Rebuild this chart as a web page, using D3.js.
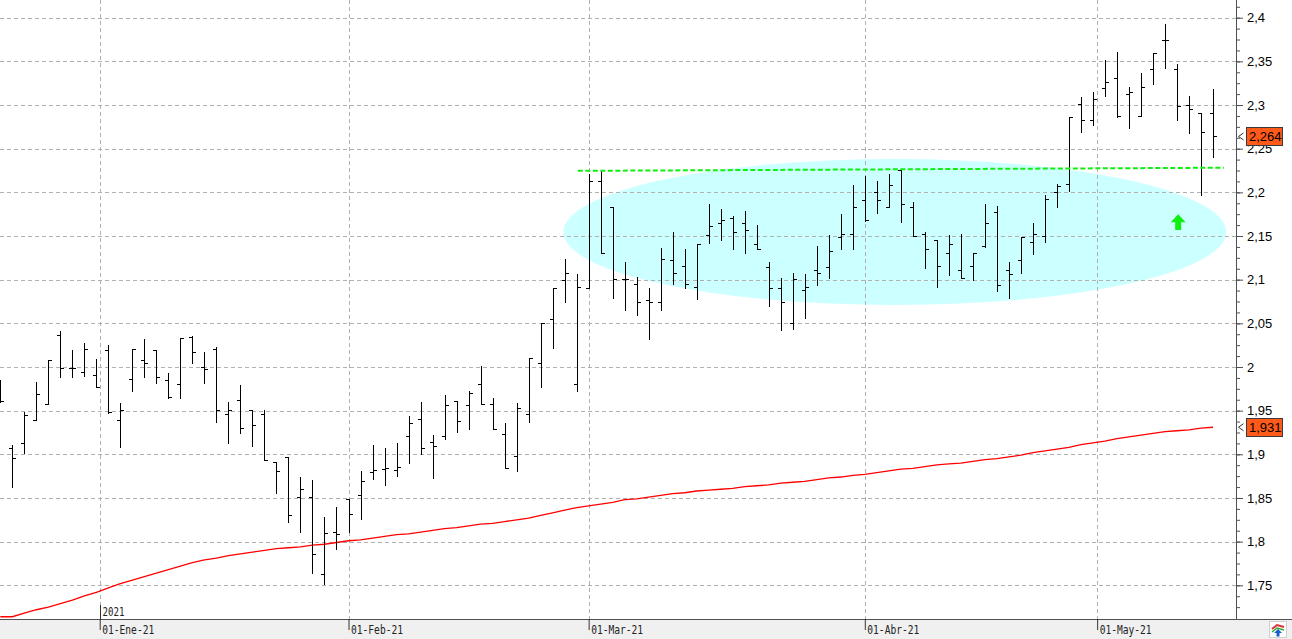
<!DOCTYPE html>
<html><head><meta charset="utf-8">
<script src="https://cdn.jsdelivr.net/npm/d3@7"></script>
<style>html,body{margin:0;padding:0;background:#fff;overflow:hidden}svg{display:block}</style>
</head><body>
<svg id="c" width="1292" height="639"></svg>
<script>
// ---- data ----
const opens = [1.975,1.907,1.913,1.939,1.958,2.037,1.999,1.994,1.991,2.019,
1.939,1.986,2.008,2.019,1.985,1.980,2.034,2.000,2.021,1.946,
1.962,1.951,1.946,1.891,1.897,1.851,1.851,1.763,1.811,1.849,
1.853,1.880,1.883,1.882,1.921,1.940,1.914,1.921,1.961,1.956,
1.980,1.958,1.923,1.898,1.946,2.004,2.055,2.100,1.980,2.090,
2.213,2.183,2.101,2.095,2.077,2.074,2.122,2.116,2.092,2.151,
2.165,2.171,2.165,2.141,2.114,2.090,2.050,2.088,2.111,2.114,
2.149,2.152,2.191,2.200,2.183,2.226,2.183,2.152,2.146,2.130,
2.111,2.116,2.138,2.177,2.111,2.122,2.143,2.150,2.200,2.210,
2.301,2.283,2.320,2.331,2.313,2.288,2.341,2.375,2.341,2.300,
2.291,2.291];
const highs = [1.985,1.911,1.948,1.983,2.008,2.041,2.019,2.027,2.009,2.025,
1.959,2.021,2.032,2.019,1.993,2.033,2.036,2.017,2.023,1.960,
1.979,1.951,1.951,1.891,1.897,1.874,1.871,1.828,1.840,1.849,
1.881,1.911,1.907,1.913,1.944,1.960,1.922,1.968,1.961,1.973,
2.001,1.965,1.936,1.959,2.010,2.050,2.090,2.124,2.107,2.221,
2.226,2.183,2.120,2.103,2.090,2.136,2.155,2.135,2.141,2.187,
2.181,2.173,2.179,2.163,2.120,2.102,2.108,2.106,2.139,2.151,
2.175,2.208,2.219,2.213,2.221,2.226,2.189,2.155,2.146,2.151,
2.152,2.130,2.187,2.184,2.120,2.149,2.165,2.197,2.210,2.286,
2.309,2.315,2.351,2.361,2.321,2.337,2.360,2.393,2.347,2.310,
2.291,2.318];
const lows = [1.960,1.862,1.901,1.939,1.958,1.988,1.988,1.990,1.977,1.947,
1.908,1.972,1.988,1.982,1.964,1.964,2.005,1.982,1.937,1.913,
1.924,1.910,1.894,1.856,1.822,1.811,1.764,1.752,1.791,1.811,
1.826,1.872,1.865,1.875,1.890,1.900,1.873,1.917,1.925,1.929,
1.958,1.929,1.884,1.881,1.937,1.977,2.022,2.074,1.972,2.090,
2.130,2.079,2.065,2.060,2.032,2.065,2.095,2.090,2.078,2.142,
2.146,2.135,2.130,2.135,2.070,2.042,2.044,2.056,2.094,2.102,
2.135,2.135,2.167,2.176,2.183,2.166,2.150,2.113,2.092,2.105,
2.102,2.100,2.137,2.087,2.079,2.108,2.129,2.143,2.183,2.202,
2.269,2.277,2.310,2.286,2.274,2.288,2.324,2.342,2.283,2.268,
2.197,2.240];
const closes = [1.961,1.896,1.945,1.969,2.008,1.999,1.999,2.021,1.977,1.949,
1.951,2.021,2.005,1.988,1.966,2.033,2.017,1.998,1.951,1.951,
1.930,1.934,1.894,1.881,1.831,1.860,1.786,1.810,1.809,1.832,
1.870,1.882,1.884,1.886,1.936,1.907,1.909,1.956,1.938,1.970,
1.958,1.929,1.884,1.953,2.010,2.050,2.090,2.108,2.092,2.213,
2.130,2.101,2.101,2.074,2.074,2.124,2.108,2.095,2.141,2.162,
2.168,2.155,2.157,2.135,2.090,2.074,2.101,2.092,2.108,2.133,
2.152,2.183,2.168,2.191,2.208,2.187,2.150,2.135,2.116,2.141,
2.102,2.130,2.165,2.094,2.106,2.149,2.152,2.192,2.207,2.286,
2.283,2.307,2.326,2.288,2.315,2.321,2.360,2.375,2.299,2.295,
2.269,2.264];
const movingAvg = [1.714,1.714,1.718,1.722,1.725,1.729,1.733,1.738,1.742,1.747,
1.752,1.756,1.760,1.764,1.768,1.772,1.776,1.779,1.781,1.784,
1.786,1.788,1.790,1.792,1.793,1.794,1.796,1.797,1.799,1.801,
1.802,1.804,1.806,1.808,1.809,1.811,1.813,1.815,1.816,1.818,
1.820,1.821,1.823,1.825,1.827,1.830,1.833,1.836,1.839,1.841,
1.843,1.845,1.848,1.849,1.851,1.853,1.855,1.856,1.858,1.859,
1.860,1.861,1.863,1.864,1.865,1.867,1.868,1.869,1.871,1.873,
1.874,1.876,1.877,1.879,1.881,1.883,1.884,1.886,1.888,1.889,
1.890,1.892,1.894,1.895,1.897,1.899,1.902,1.904,1.906,1.908,
1.911,1.913,1.915,1.918,1.920,1.922,1.924,1.926,1.927,1.928,
1.930,1.931];
const yTicks = [1.75,1.8,1.85,1.9,1.95,2,2.05,2.1,2.15,2.2,2.25,2.3,2.35,2.4];
const monthTicks = [8.28, 29, 49, 72, 91.35];
const monthLabels = ["01-Ene-21","01-Feb-21","01-Mar-21","01-Abr-21","01-May-21"];
const yearLabel = "2021";
const lastClose = 2.264;
const lastAvg = 1.931;
const resistance = [[48.1, 2.2246], [101.9, 2.2282]];
const zone = {cx: 74.5, cy: 2.1546, rx: 27.6, ry: 0.0836};
const arrowMark = {i: 98.1, top: 2.175, bottom: 2.157};

// ---- layout ----
const W = 1292, H = 639, axisX = 1236, axisY = 619;
const svg = d3.select("#c");
const x = d3.scaleLinear().domain([0, 101]).range([0.3, 1213]);
const y = d3.scaleLinear().domain([1.75, 2.4]).range([585.3, 17.7]);
const loc = d3.formatLocale({decimal: ",", thousands: ".", grouping: [3], currency: ["", "€"]});
const fmtTick = loc.format("~f");
const fmt3 = loc.format(".3f");
const FONT = "'Liberation Sans', Arial, sans-serif";
const MONO = "'DejaVu Sans Mono', 'Liberation Mono', monospace";

svg.append("rect").attr("width", W).attr("height", H).attr("fill", "#fff");
svg.append("rect").attr("x", 0).attr("y", axisY).attr("width", W).attr("height", H - axisY).attr("fill", "#f0f0f0");

// zone ellipse
const ry0 = y(zone.cy);
svg.append("ellipse")
  .attr("cx", x(zone.cx)).attr("cy", ry0)
  .attr("rx", x(zone.cx + zone.rx) - x(zone.cx))
  .attr("ry", y(zone.cy - zone.ry) - ry0)
  .attr("fill", "#ccffff");

// gridlines
const grid = svg.append("g").attr("stroke", "#b0b0b0").attr("stroke-dasharray", "4,3").attr("shape-rendering", "crispEdges");
yTicks.forEach(v => {
  const yy = Math.round(y(v)) + 0.5;
  grid.append("line").attr("x1", 0).attr("x2", axisX).attr("y1", yy).attr("y2", yy);
});
monthTicks.forEach(m => {
  const xx = Math.round(x(m)) + 0.5;
  grid.append("line").attr("x1", xx).attr("x2", xx).attr("y1", 0).attr("y2", axisY);
});

// moving average
svg.append("path")
  .datum(movingAvg)
  .attr("fill", "none").attr("stroke", "#ff0000").attr("stroke-width", 1.3)
  .attr("d", d3.line().x((d, i) => x(i)).y(d => y(d)));

// OHLC bars
const bars = svg.append("g").attr("stroke", "#000").attr("stroke-width", 1).attr("fill", "none").attr("shape-rendering", "crispEdges");
opens.forEach((o, i) => {
  const c = Math.round(x(i));
  const px = c + 0.5;
  const yh = Math.round(y(highs[i]));
  const yl = Math.round(y(lows[i])) + 1;
  const yo = Math.round(y(o)) + 0.5;
  const yc = Math.round(y(closes[i])) + 0.5;
  bars.append("path").attr("d", `M${px},${yh}V${yl}M${c - 3},${yo}H${c + 1}M${c},${yc}H${c + 4}`);
});

// resistance line
svg.append("line")
  .attr("x1", x(resistance[0][0])).attr("y1", y(resistance[0][1]))
  .attr("x2", x(resistance[1][0])).attr("y2", y(resistance[1][1]))
  .attr("stroke", "#11ee11").attr("stroke-width", 2).attr("stroke-dasharray", "5,2.5");

// green up arrow
{
  const ax = x(arrowMark.i), yt = y(arrowMark.top), yb = y(arrowMark.bottom);
  const hh = (yb - yt) * 0.52;
  svg.append("path")
    .attr("d", `M${ax},${yt}L${ax + 7.5},${yt + hh}L${ax + 3},${yt + hh}L${ax + 3},${yb}L${ax - 3},${yb}L${ax - 3},${yt + hh}L${ax - 7.5},${yt + hh}Z`)
    .attr("fill", "#11ee11");
}

// right axis
svg.append("line").attr("x1", axisX + 0.5).attr("x2", axisX + 0.5).attr("y1", 0).attr("y2", axisY)
  .attr("stroke", "#505050").attr("shape-rendering", "crispEdges");
const minorTicks = d3.range(0, 58).map(k => 1.7125 + k * 0.0125).filter(v => y(v) >= 0 && y(v) <= axisY - 2);
const minorAxis = svg.append("g").attr("transform", `translate(${axisX},0)`)
  .call(d3.axisRight(y).tickValues(minorTicks).tickSize(4).tickFormat(""));
minorAxis.select(".domain").remove();
minorAxis.selectAll("line").attr("stroke", "#505050");
const majorAxis = svg.append("g").attr("transform", `translate(${axisX},0)`)
  .call(d3.axisRight(y).tickValues(yTicks).tickSize(7).tickPadding(4).tickFormat(fmtTick));
majorAxis.select(".domain").remove();
majorAxis.selectAll("line").attr("stroke", "#505050");
majorAxis.selectAll("text").attr("font-family", FONT).attr("font-size", 13).attr("fill", "#000");

// last value boxes
function priceBox(v) {
  const yy = y(v);
  const g = svg.append("g");
  g.append("path").attr("d", `M${axisX + 7.5},${yy - 3.5}L${axisX + 2.5},${yy}L${axisX + 7.5},${yy + 3.5}`)
    .attr("fill", "none").attr("stroke", "#333").attr("stroke-width", 1);
  g.append("rect").attr("x", 1246.5).attr("y", Math.round(yy - 9) + 0.5).attr("width", 36).attr("height", 18)
    .attr("fill", "#ff5a1a").attr("stroke", "#3a3a3a").attr("stroke-width", 1).attr("shape-rendering", "crispEdges");
  g.append("text").attr("x", 1249).attr("y", yy + 5).text(fmt3(v))
    .attr("font-family", FONT).attr("font-size", 13).attr("fill", "#000");
}
priceBox(lastClose);
priceBox(lastAvg);

// bottom axis
svg.append("line").attr("x1", 0).attr("x2", W).attr("y1", axisY + 0.5).attr("y2", axisY + 0.5)
  .attr("stroke", "#505050").attr("shape-rendering", "crispEdges");
const xAxis = svg.append("g").attr("transform", `translate(0,${axisY})`)
  .call(d3.axisBottom(x).tickValues(monthTicks).tickSize(11).tickFormat((d, i) => monthLabels[i]));
xAxis.select(".domain").remove();
xAxis.selectAll("line").attr("stroke", "#333");
xAxis.selectAll("text")
  .attr("x", 2).attr("y", 15).attr("dy", 0).attr("text-anchor", "start")
  .attr("font-family", MONO).attr("font-size", 13).attr("fill", "#222")
  .attr("textLength", 52).attr("lengthAdjust", "spacingAndGlyphs");
// year marker
{
  const xx = Math.round(x(monthTicks[0])) + 0.5;
  svg.append("line").attr("x1", xx).attr("x2", xx).attr("y1", 605).attr("y2", axisY)
    .attr("stroke", "#333").attr("shape-rendering", "crispEdges");
  svg.append("text").attr("x", xx + 2).attr("y", 616).text(yearLabel)
    .attr("font-family", MONO).attr("font-size", 13).attr("fill", "#222")
    .attr("textLength", 22).attr("lengthAdjust", "spacingAndGlyphs");
}

// small icon bottom-right
{
  const ic = svg.append("g");
  ic.append("rect").attr("x", 1269.5).attr("y", 621.5).attr("width", 17).attr("height", 16)
    .attr("fill", "#fff").attr("stroke", "#d0d0d0");
  ic.append("path").attr("d", "M1272,629L1277,625L1284,627").attr("fill", "none").attr("stroke", "#d33").attr("stroke-width", 2);
  ic.append("path").attr("d", "M1272,632L1277,628L1284,630").attr("fill", "none").attr("stroke", "#3a3").attr("stroke-width", 1.5);
  ic.append("path").attr("d", "M1278,629L1274,633L1276.5,633L1276.5,636.5L1279.5,636.5L1279.5,633L1282,633Z").attr("fill", "#1a5fd0");
}
</script>
</body></html>
